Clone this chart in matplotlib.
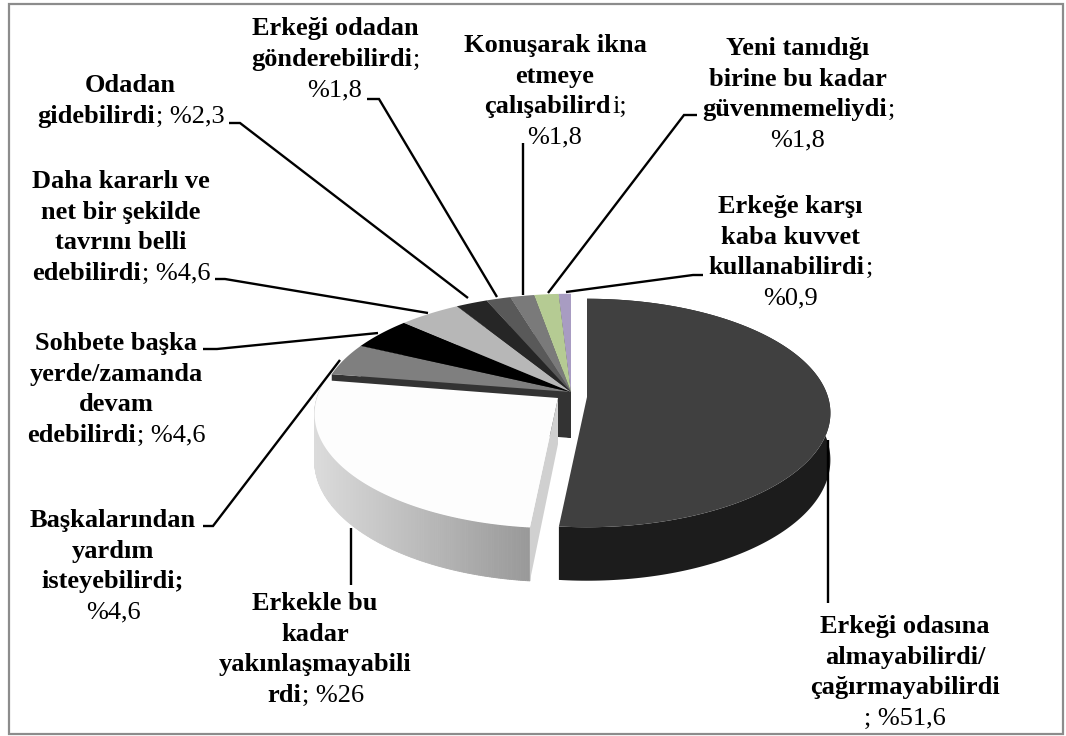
import numpy as np
import matplotlib
matplotlib.use('Agg')
import matplotlib.pyplot as plt
from matplotlib.patches import Rectangle

# Slices, clockwise from the top
values = [51.6, 26, 4.6, 4.6, 4.6, 2.3, 1.8, 1.8, 1.8, 0.9]
top_colors = ['#404040', '#fdfdfd', '#7f7f7f', '#000000', '#b7b7b7',
              '#262626', '#595959', '#7a7a7a', '#b5cb93', '#a89cc2']

# Label lines, "bold|regular"
labels = [
    ['Erkeği odasına', 'almayabilirdi/', 'çağırmayabilirdi', '|; %51,6'],
    ['Erkekle bu', 'kadar', 'yakınlaşmayabili', 'rdi|; %26'],
    ['Başkalarından', 'yardım', 'isteyebilirdi;', '|%4,6'],
    ['Sohbete başka', 'yerde/zamanda', 'devam', 'edebilirdi|; %4,6'],
    ['Daha kararlı ve', 'net bir şekilde', 'tavrını belli', 'edebilirdi|; %4,6'],
    ['Odadan', 'gidebilirdi|; %2,3'],
    ['Erkeği odadan', 'gönderebilirdi|;', '|%1,8'],
    ['Konuşarak ikna', 'etmeye', 'çalışabilird|i;', '|%1,8'],
    ['Yeni tanıdığı', 'birine bu kadar', 'güvenmemeliydi|;', '|%1,8'],
    ['Erkeğe karşı', 'kaba kuvvet', 'kullanabilirdi|;', '|%0,9'],
]
label_x = [905, 315, 113, 116, 121, 130, 335, 555, 798, 790]
label_y = [633, 610, 527, 350, 188, 92, 35, 52, 55, 213]

# Leader lines (pixels of the picture)
leaders = [
    [(828, 440), (828, 603)],
    [(351, 528), (351, 585)],
    [(203, 526), (213, 526), (340, 360)],
    [(203, 349), (217, 349), (378, 333)],
    [(215, 279), (225, 279), (428, 313)],
    [(229, 123), (240, 123), (468, 298)],
    [(367, 99), (379, 99), (497, 297)],
    [(523, 143), (523, 295)],
    [(697, 115), (684, 115), (548, 293)],
    [(703, 275), (693, 275), (566, 292)],
]

# Where each slice's tip sits once exploded
tips = [(587, 397), (558, 398)] + [(571, 392)] * 8

RX, RY, K, DROP = 241, 112, 0.14, 46
RX_BACK = 248
LINE_H = 30.6


def project(theta, tip, rx=RX):
    # perspective view of the disc, back of the pie is smaller
    u, v = np.sin(theta), np.cos(theta)
    w = 1 + K * v
    return tip[0] + rx * u / w, tip[1] - RY * v / w, DROP / w


def draw_label(lines, cx, y0):
    for i, line in enumerate(lines):
        bold, _, regular = line.partition('|')
        y = y0 + i * LINE_H
        parts = []
        for s, weight in [(bold, 'bold'), (regular, 'normal')]:
            if s:
                t = ax.text(0, y, s, family='Liberation Serif', fontsize=19,
                            weight=weight, va='baseline', ha='left', color='black')
                parts.append(t)
        widths = [t.get_window_extent(renderer).width for t in parts]
        x = cx - sum(widths) / 2
        for t, wd in zip(parts, widths):
            t.set_x(x)
            x += wd + 1


fig = plt.figure(figsize=(10.66, 7.36), dpi=100)
ax = fig.add_axes([0, 0, 1, 1])
ax.set_xlim(0, 1066)
ax.set_ylim(736, 0)
ax.axis('off')
renderer = fig.canvas.get_renderer()

ax.add_patch(Rectangle((8.5, 4), 1054.5, 730, fill=False, edgecolor='#8c8c8c', lw=1.6))

edges = np.radians(np.cumsum([0] + values) / sum(values) * 360)

# back slices first: side faces, then tops
for i in range(2, len(values)):
    for a in (edges[i], edges[i + 1]):
        x, y, d = project(a, tips[i], RX_BACK)
        ax.fill([tips[i][0], x, x, tips[i][0]], [tips[i][1], y, y + d, tips[i][1] + DROP],
                color='#333333', lw=0)
for i in range(2, len(values)):
    th = np.linspace(edges[i], edges[i + 1], 30)
    x, y, d = project(th, tips[i], RX_BACK)
    ax.fill(np.r_[tips[i][0], x], np.r_[tips[i][1], y], color=top_colors[i], lw=0)

# white slice: gradient wall, face and top
tip = tips[1]
th = np.linspace(edges[1], edges[2], 200)
x, y, d = project(th, tip)
for j in range(len(th) - 1):
    g = 0.60 + 0.26 * (x[0] - x[j]) / (x[0] - x.min())
    ax.fill([x[j], x[j + 1], x[j + 1], x[j]],
            [y[j], y[j + 1], y[j + 1] + d[j + 1], y[j] + d[j]],
            color=(g, g, g), lw=0.6)
ax.fill([tip[0], x[0], x[0], tip[0]], [tip[1], y[0], y[0] + d[0], tip[1] + DROP],
        color='#d0d0d0', lw=0)
ax.fill(np.r_[tip[0], x], np.r_[tip[1], y], color=top_colors[1], lw=0)

# dark slice
tip = tips[0]
th = np.linspace(edges[0], edges[1], 200)
x, y, d = project(th, tip)
ax.fill(np.r_[x, x[::-1]], np.r_[y, (y + d)[::-1]], color='#1c1c1c', lw=0)
ax.fill(np.r_[tip[0], x], np.r_[tip[1], y], color=top_colors[0], lw=0)

for pts in leaders:
    ax.plot([p[0] for p in pts], [p[1] for p in pts], color='black', lw=1.7,
            solid_capstyle='butt', solid_joinstyle='miter')

for lines, lx, ly in zip(labels, label_x, label_y):
    draw_label(lines, lx, ly)

fig.savefig('out.png', dpi=100)
